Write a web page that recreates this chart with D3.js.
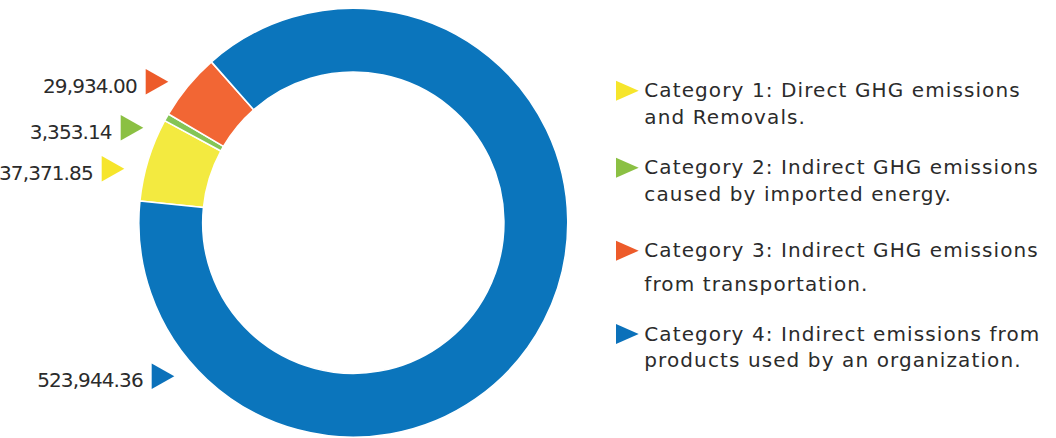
<!DOCTYPE html>
<html>
<head>
<meta charset="utf-8">
<script src="https://cdn.jsdelivr.net/npm/d3@7"></script>
<style>
  html, body { margin: 0; padding: 0; background: #fff; }
  svg { display: block; }
  text { font-family: "DejaVu Sans", sans-serif; fill: #2b2b2b; }
</style>
</head>
<body>
<svg id="chart" width="1056" height="438"></svg>
<script>
// GHG emissions by category
const categories = ["Category 1", "Category 2", "Category 3", "Category 4"];
const values = [37371.85, 3353.14, 29934.00, 523944.36];
const valueLabels = ["37,371.85", "3,353.14", "29,934.00", "523,944.36"];
const legendLines = [
  ["Category 1: Direct GHG emissions", "and Removals."],
  ["Category 2: Indirect GHG emissions", "caused by imported energy."],
  ["Category 3: Indirect GHG emissions", "from transportation."],
  ["Category 4: Indirect emissions from", "products used by an organization."]
];
const sliceColors = ["#f3ea40", "#84c556", "#f26634", "#0b75bc"];
const markerColors = ["#f6e52b", "#8bc043", "#ed5b2a", "#0b71ba"];

// layout
const cx = 353.3, cy = 222.7, outerR = 214.5, innerR = 150.6;
const startDeg = -84.2;
// value label anchors (triangle tip x, centre y), placed beside the ring
const labelAnchors = [[124.3, 168.7], [143.3, 127.8], [168.3, 81.7], [174.3, 376.2]];
// legend rows: baseline of first line, second line offset
const legendRows = [[97.3, 27], [174.3, 26.7], [257.3, 33.4], [340.7, 26.6]];
const legendX = 616;

const svg = d3.select("#chart");

const pie = d3.pie().sort(null).value(d => d)
  .startAngle(startDeg * Math.PI / 180)
  .endAngle(startDeg * Math.PI / 180 + 2 * Math.PI);
const arc = d3.arc().innerRadius(innerR).outerRadius(outerR);

svg.append("g")
  .attr("transform", `translate(${cx},${cy})`)
  .selectAll("path")
  .data(pie(values))
  .join("path")
  .attr("d", arc)
  .attr("fill", (d, i) => sliceColors[i])
  .attr("stroke", "#fff")
  .attr("stroke-width", 1.6)
  .attr("stroke-linejoin", "round");

// value labels with right-pointing markers
const tri = (w, h) => `M${-w},${-h / 2}L0,0L${-w},${h / 2}Z`;

const vl = svg.append("g").selectAll("g")
  .data(categories)
  .join("g")
  .attr("transform", (d, i) => `translate(${labelAnchors[i][0]},${labelAnchors[i][1]})`);
vl.append("path")
  .attr("d", tri(22.6, 25.5))
  .attr("fill", (d, i) => markerColors[i]);
vl.append("text")
  .attr("x", -31.6)
  .attr("y", 10.8)
  .attr("text-anchor", "end")
  .attr("font-size", 20)
  .attr("letter-spacing", -0.9)
  .text((d, i) => valueLabels[i]);

// legend
const lg = svg.append("g").selectAll("g")
  .data(categories)
  .join("g")
  .attr("transform", (d, i) => `translate(${legendX},${legendRows[i][0]})`);
lg.append("path")
  .attr("d", `M0,-16.6L22.7,-6.6L0,3.4Z`)
  .attr("fill", (d, i) => markerColors[i]);
lg.each(function (d, i) {
  const t = d3.select(this).append("text")
    .attr("x", 28.3)
    .attr("font-size", 20)
    .attr("letter-spacing", 1.1);
  legendLines[i].forEach((line, j) => {
    t.append("tspan")
      .attr("x", 28.3)
      .attr("y", j === 0 ? 0 : legendRows[i][1])
      .text(line);
  });
});
</script>
</body>
</html>
